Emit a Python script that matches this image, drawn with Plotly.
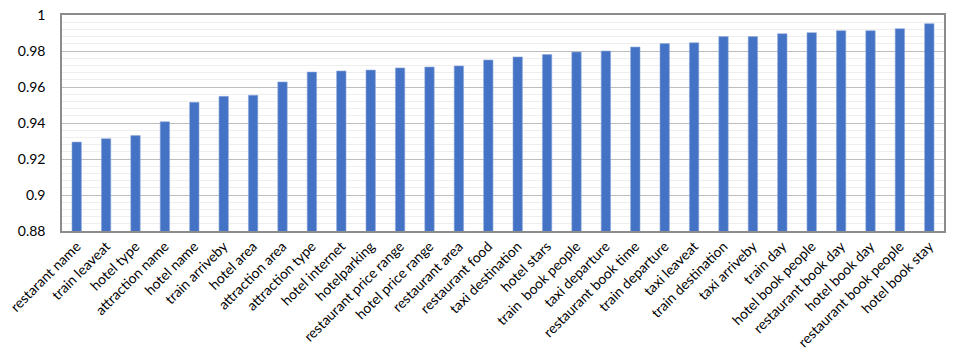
import plotly.graph_objects as go

categories = ["restarant name", "train leaveat", "hotel type", "attraction name", "hotel name",
              "train arriveby", "hotel area", "attraction area", "attraction type", "hotel internet",
              "hotelparking", "restaurant price range", "hotel price range", "restaurant area",
              "restaurant food", "taxi destination", "hotel stars", "train  book people",
              "taxi departure", "restaurant book time", "train departure", "taxi leaveat",
              "train destination", "taxi arriveby", "train day", "hotel book people",
              "restaurant book day", "hotel book day", "restaurant book people", "hotel book stay"]
values = [0.9294, 0.9313, 0.9330, 0.9407, 0.9515, 0.9548, 0.9554, 0.9628, 0.9683, 0.9689,
          0.9694, 0.9706, 0.9711, 0.9717, 0.9750, 0.9767, 0.9780, 0.9794, 0.9800, 0.9822,
          0.9841, 0.9846, 0.9880, 0.9880, 0.9896, 0.9902, 0.9913, 0.9913, 0.9924, 0.9952]
y_ticks = [0.88, 0.9, 0.92, 0.94, 0.96, 0.98, 1]
y_ticktext = ["0.88", "0.9", "0.92", "0.94", "0.96", "0.98", "1"]

fig = go.Figure(go.Bar(
    x=categories, y=values,
    marker=dict(color="#4472C4", line=dict(color="#8FAADC", width=0.6)),
))

fig.update_layout(
    width=955, height=363,
    margin=dict(l=62, r=11, t=15, b=132),
    paper_bgcolor="white", plot_bgcolor="white",
    bargap=0.68,
    showlegend=False,
    font=dict(family="Lato, Open Sans, sans-serif", size=14, color="#000000"),
)
fig.update_xaxes(
    tickangle=-45, automargin=False,
    showline=True, linecolor="#8c8c8c", linewidth=1.5, mirror=True,
    ticks="", showgrid=False,
    tickfont=dict(size=14),
    ticklabeloverflow="allow",
)
fig.update_yaxes(
    range=[0.88, 1], tickvals=y_ticks, ticktext=y_ticktext, automargin=False,
    showline=True, linecolor="#8c8c8c", linewidth=1.5, mirror=True,
    showgrid=True, gridcolor="#bdbdbd", gridwidth=1,
    minor=dict(dtick=0.004, showgrid=True, gridcolor="#eeeeee", gridwidth=1),
    ticks="", ticklabelstandoff=12,
    tickfont=dict(size=14),
    ticklabeloverflow="allow",
    zeroline=False,
)

fig.write_html("out.html", config={"displayModeBar": False},
               post_script="document.body.style.margin='0';document.body.style.overflow='hidden';")
